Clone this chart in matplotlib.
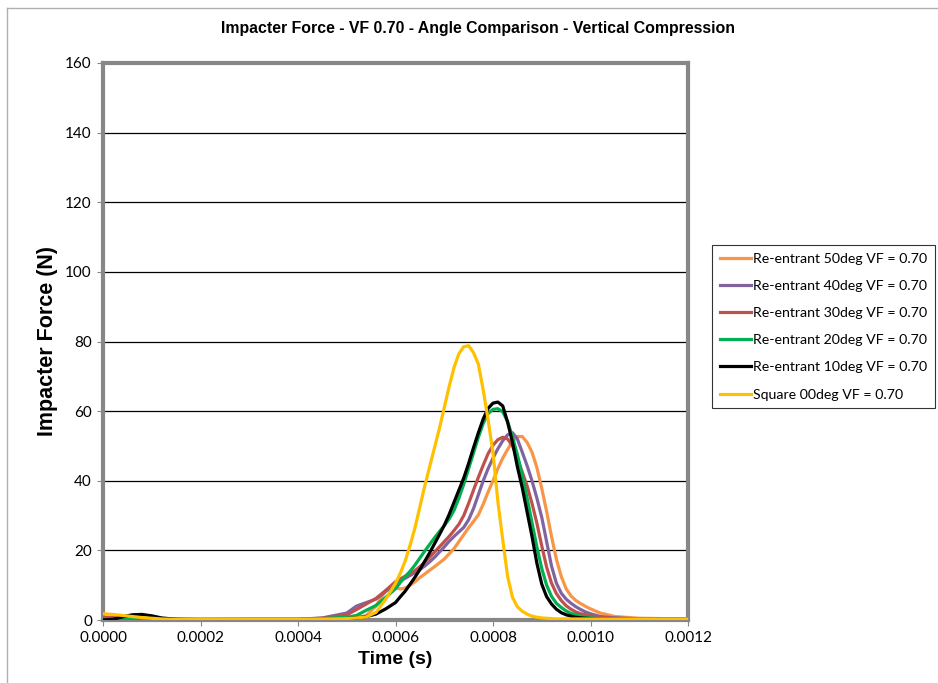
import numpy as np
import matplotlib.pyplot as plt
from matplotlib.lines import Line2D
from matplotlib.ticker import FormatStrFormatter, MultipleLocator

# sample times in microseconds
t_us = [0, 20, 40, 60, 80, 100, 120, 150, 200, 300, 400, 450, 500, 520, 540, 560, 580,
        600, 610, 620, 630, 640, 650, 660, 670, 680, 690, 700, 710, 720, 730, 740, 750,
        760, 770, 780, 790, 800, 810, 820, 830, 840, 850, 860, 870, 880, 890, 900, 910,
        920, 930, 940, 950, 960, 970, 980, 990, 1000, 1020, 1050, 1100, 1200]

# impacter force (N) for each cell geometry
f_50deg = [0.2, 0.2, 0.2, 0.2, 0.2, 0.2, 0.2, 0.2, 0.2, 0.2, 0.2, 0.2, 0.3, 0.5, 1.3, 4.0, 8.5,
           9.3, 8.9, 9.2, 10.0, 11.0, 12.2, 13.2, 14.3, 15.3, 16.4, 17.5, 19.0, 20.5, 22.5, 24.5, 26.5,
           28.3, 30.2, 33.3, 36.8, 40.0, 43.5, 46.5, 49.0, 51.3, 52.7, 52.7, 51.0, 48.2, 43.8, 37.8, 31.2,
           24.0, 17.5, 12.5, 9.0, 6.9, 5.6, 4.7, 3.9, 3.2, 2.0, 1.0, 0.5, 0.3]
f_40deg = [0.5, 0.5, 0.4, 0.4, 0.3, 0.3, 0.3, 0.2, 0.2, 0.2, 0.2, 0.6, 2.0, 4.0, 5.0, 6.0, 8.2,
           10.3, 11.2, 12.0, 12.8, 13.6, 14.5, 15.5, 16.7, 18.0, 19.5, 21.0, 22.6, 24.0, 25.3, 26.6, 28.8,
           32.0, 36.0, 40.0, 43.5, 46.5, 49.2, 51.5, 53.2, 53.8, 52.0, 48.2, 44.3, 40.0, 35.0, 29.5, 22.5,
           15.5, 10.6, 7.7, 6.0, 4.8, 3.8, 3.0, 2.3, 1.8, 1.0, 0.6, 0.3, 0.2]
f_30deg = [0.8, 0.7, 0.6, 0.5, 0.4, 0.3, 0.3, 0.2, 0.2, 0.2, 0.2, 0.5, 1.5, 3.0, 4.6, 6.2, 8.5,
           11.0, 11.8, 12.6, 13.3, 14.2, 15.3, 16.6, 18.0, 19.5, 21.0, 22.5, 24.0, 25.7, 27.5, 30.0, 33.5,
           37.3, 41.0, 44.5, 47.8, 50.2, 51.8, 52.5, 52.0, 50.0, 46.5, 42.5, 38.5, 33.5, 27.8, 21.3, 15.2,
           10.6, 7.6, 5.6, 4.1, 3.1, 2.3, 1.8, 1.5, 1.2, 0.8, 0.5, 0.3, 0.2]
f_20deg = [0.3, 0.3, 0.3, 0.3, 0.3, 0.3, 0.2, 0.2, 0.2, 0.2, 0.2, 0.4, 0.8, 1.3, 2.8, 4.2, 6.5,
           9.0, 10.8, 12.5, 14.0, 15.8, 17.8, 19.8, 21.7, 23.6, 25.4, 27.1, 29.0, 31.5, 35.0, 39.0, 43.5,
           48.0, 52.5, 56.5, 59.3, 60.5, 60.7, 59.8, 57.0, 52.5, 47.5, 41.5, 35.0, 28.0, 21.0, 14.8, 10.0,
           6.8, 4.8, 3.6, 2.6, 1.9, 1.5, 1.1, 0.8, 0.6, 0.4, 0.3, 0.2, 0.2]
f_10deg = [0.0, 0.2, 0.9, 1.5, 1.6, 1.2, 0.6, 0.2, 0.1, 0.1, 0.1, 0.2, 0.4, 0.6, 1.0, 1.7, 3.2,
           5.0, 6.7, 8.3, 10.3, 12.3, 14.5, 16.9, 19.3, 21.9, 24.5, 27.2, 30.3, 33.8, 37.3, 40.8, 45.0,
           49.5, 53.8, 57.8, 60.8, 62.3, 62.6, 61.5, 56.8, 51.0, 44.0, 38.0, 31.0, 24.0, 16.3, 10.3, 6.7,
           4.6, 3.1, 2.1, 1.5, 1.1, 0.8, 0.6, 0.5, 0.4, 0.3, 0.3, 0.2, 0.2]
f_00deg = [1.8, 1.6, 1.3, 1.0, 0.7, 0.5, 0.3, 0.2, 0.3, 0.2, 0.2, 0.3, 0.4, 0.6, 0.9, 2.2, 6.0,
           10.5, 13.5, 17.0, 21.5, 26.5, 32.5, 38.5, 44.0, 49.5, 55.0, 61.0, 67.0, 72.5, 76.5, 78.5, 78.8,
           76.8, 73.5, 66.0, 57.5, 48.0, 34.0, 23.0, 12.5, 6.5, 3.8, 2.5, 1.7, 1.1, 0.8, 0.6, 0.5,
           0.4, 0.3, 0.3, 0.3, 0.3, 0.3, 0.3, 0.3, 0.3, 0.3, 0.3, 0.3, 0.3]

labels = ["Re-entrant 50deg VF = 0.70", "Re-entrant 40deg VF = 0.70",
          "Re-entrant 30deg VF = 0.70", "Re-entrant 20deg VF = 0.70",
          "Re-entrant 10deg VF = 0.70", "Square 00deg VF = 0.70"]
colors = ["#F79646", "#8064A2", "#C0504D", "#00B050", "#000000", "#FFC000"]
series = [f_50deg, f_40deg, f_30deg, f_20deg, f_10deg, f_00deg]

t = np.array(t_us) * 1e-6

plt.rcParams["font.family"] = ["Lato", "DejaVu Sans"]
bold_font = ["Liberation Sans", "DejaVu Sans"]

fig = plt.figure(figsize=(9.38, 6.83), dpi=100)
ax = fig.add_axes([103 / 938, 63 / 683, 585 / 938, 557 / 683])

for f, c, lab in zip(series, colors, labels):
    ax.plot(t, f, color=c, lw=2.3, label=lab, zorder=3, solid_capstyle="round",
            solid_joinstyle="round")

ax.set_xlim(0, 0.0012)
ax.set_ylim(0, 160)
ax.xaxis.set_major_locator(MultipleLocator(0.0002))
ax.xaxis.set_major_formatter(FormatStrFormatter("%.4f"))
ax.yaxis.set_major_locator(MultipleLocator(20))
ax.grid(axis="y", color="black", lw=0.9, zorder=1)
ax.set_axisbelow(True)
for s in ax.spines.values():
    s.set_color("#878787")
    s.set_linewidth(3)
ax.tick_params(axis="both", colors="#878787", length=4, width=0.8, labelcolor="black",
               labelsize=11, pad=4)

ax.set_xlabel("Time (s)", fontsize=14, fontweight="bold", family=bold_font, labelpad=4)
ax.set_ylabel("Impacter Force (N)", fontsize=15.5, fontweight="bold", family=bold_font, labelpad=5)
fig.text(478 / 938, 1 - 28 / 683, "Impacter Force - VF 0.70 - Angle Comparison - Vertical Compression",
         ha="center", va="center", fontsize=11.4, fontweight="bold", family=bold_font)

handles = [Line2D([], [], color=c, lw=2.3) for c in colors]
leg = fig.legend(handles, labels, loc="upper left", bbox_to_anchor=(712 / 938, 1 - 245 / 683),
                 fontsize=10.2, frameon=True, fancybox=False, handlelength=2.2, handletextpad=0.12,
                 labelspacing=1.07, borderpad=0.55, borderaxespad=0)
leg.get_frame().set_edgecolor("black")
leg.get_frame().set_linewidth(0.8)

# chart-area border
fig.add_artist(Line2D([7 / 938, 7 / 938], [0, 1 - 8 / 683], color="#B0B0B0", lw=1))
fig.add_artist(Line2D([7 / 938, 1], [1 - 8 / 683, 1 - 8 / 683], color="#B0B0B0", lw=1))

fig.savefig("out.png", dpi=100)
